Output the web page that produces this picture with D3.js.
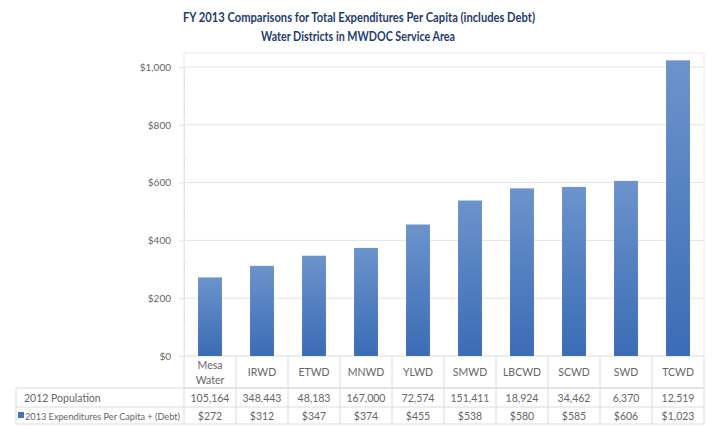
<!DOCTYPE html>
<html>
<head>
<meta charset="utf-8">
<script src="https://cdn.jsdelivr.net/npm/d3@7"></script>
<style>
  body { margin: 0; background: #fff; }
  text { font-family: Lato, "Open Sans", sans-serif; }
</style>
</head>
<body>
<div id="chart"></div>
<script>
// Data
const districts = ["Mesa Water", "IRWD", "ETWD", "MNWD", "YLWD", "SMWD", "LBCWD", "SCWD", "SWD", "TCWD"];
const population = [105164, 348443, 48183, 167000, 72574, 151411, 18924, 34462, 6370, 12519];
const expenditures = [272, 312, 347, 374, 455, 538, 580, 585, 606, 1023];
const yTicks = [0, 200, 400, 600, 800, 1000];

const svgWidth = 717;
const svgHeight = 426;

const margin = { top: 53, right: 13, bottom: 70, left: 184 };
const width = svgWidth - margin.left - margin.right;
const height = 356 - margin.top;

const svg = d3.select("#chart")
  .append("svg")
  .attr("width", svgWidth)
  .attr("height", svgHeight);

// gradient for bars
const grad = svg.append("defs").append("linearGradient")
  .attr("id", "barGrad")
  .attr("x1", 0).attr("y1", 0).attr("x2", 0).attr("y2", 1);
grad.append("stop").attr("offset", "0%").attr("stop-color", "#6c93cb");
grad.append("stop").attr("offset", "100%").attr("stop-color", "#3b6cb6");

// title
const title = svg.append("g")
  .attr("fill", "#1f3b6e")
  .attr("font-weight", "bold")
  .attr("font-size", "12.5px")
  .attr("text-anchor", "middle");
title.append("text").attr("x", 359).attr("y", 22)
  .attr("textLength", 352)
  .attr("lengthAdjust", "spacingAndGlyphs")
  .text("FY 2013 Comparisons  for Total Expenditures Per Capita  (includes Debt)");
title.append("text").attr("x", 358).attr("y", 41)
  .attr("textLength", 194)
  .attr("lengthAdjust", "spacingAndGlyphs")
  .text("Water Districts in  MWDOC Service Area");

const chartGroup = svg.append("g")
  .attr("transform", `translate(${margin.left}, ${margin.top})`);

const x = d3.scaleBand()
  .domain(districts)
  .range([0, width])
  .paddingInner(0.54)
  .paddingOuter(0.27);

const y = d3.scaleLinear()
  .domain([0, 1000])
  .range([height, height - 289]);

// plot frame
chartGroup.append("rect")
  .attr("x", 0).attr("y", 0)
  .attr("width", width).attr("height", height)
  .attr("fill", "none")
  .attr("stroke", "#ececec");

// gridlines
chartGroup.append("g")
  .selectAll("line")
  .data(yTicks)
  .enter()
  .append("line")
  .attr("x1", 0).attr("x2", width)
  .attr("y1", d => y(d)).attr("y2", d => y(d))
  .attr("stroke", "#e4e4e4");

// y axis with minor ticks
const leftAxis = d3.axisLeft(y)
  .tickValues(yTicks)
  .tickSize(5)
  .tickPadding(8)
  .tickFormat(d => "$" + d3.format(",")(d));

const yAxis = chartGroup.append("g").call(leftAxis);
yAxis.select(".domain").attr("stroke", "#e4e4e4");
yAxis.selectAll(".tick line").attr("stroke", "#e4e4e4");
yAxis.selectAll(".tick text")
  .attr("fill", "#666")
  .attr("font-size", "10px")
  .attr("font-family", "Lato, sans-serif");

chartGroup.append("g")
  .selectAll("line")
  .data(d3.range(0, 1001, 40).filter(d => d % 200 !== 0))
  .enter()
  .append("line")
  .attr("x1", 0).attr("x2", 3)
  .attr("y1", d => y(d)).attr("y2", d => y(d))
  .attr("stroke", "#ececec");

// bars
chartGroup.selectAll(".bar")
  .data(districts)
  .enter()
  .append("rect")
  .attr("class", "bar")
  .attr("x", d => x(d))
  .attr("width", x.bandwidth())
  .attr("y", (d, i) => y(expenditures[i]))
  .attr("height", (d, i) => y(0) - y(expenditures[i]))
  .attr("fill", "url(#barGrad)");

// data table
const colW = width / districts.length;
const rowTop = height;
const row1 = height + 32;
const row2 = height + 51;
const row3 = height + 68;
const tableLeft = 16 - margin.left;
const lineColor = "#dcdcdc";

const table = chartGroup.append("g");

// horizontal lines
[[0, row1], [tableLeft, row1], [tableLeft, row2], [tableLeft, row3]].forEach(([x0, yy]) => {
  table.append("line")
    .attr("x1", x0).attr("x2", width)
    .attr("y1", yy).attr("y2", yy)
    .attr("stroke", lineColor);
});

// vertical lines
d3.range(districts.length + 1).forEach(i => {
  table.append("line")
    .attr("x1", i * colW).attr("x2", i * colW)
    .attr("y1", rowTop).attr("y2", row3)
    .attr("stroke", lineColor);
});
table.append("line")
  .attr("x1", tableLeft).attr("x2", tableLeft)
  .attr("y1", row1).attr("y2", row3)
  .attr("stroke", lineColor);

const cellText = table.append("g")
  .attr("fill", "#666")
  .attr("font-size", "10.5px")
  .attr("text-anchor", "middle");

// category labels
districts.forEach((d, i) => {
  const cx = x(d) + x.bandwidth() / 2;
  const parts = d.split(" ");
  if (parts.length > 1) {
    cellText.append("text").attr("x", cx).attr("y", rowTop + 13).text(parts[0]);
    cellText.append("text").attr("x", cx).attr("y", rowTop + 28).text(parts[1]);
  } else {
    cellText.append("text").attr("x", cx).attr("y", rowTop + 20).text(d);
  }
  cellText.append("text").attr("x", cx).attr("y", row1 + 13.5).text(d3.format(",")(population[i]));
  cellText.append("text").attr("x", cx).attr("y", row2 + 12.5).text("$" + d3.format(",")(expenditures[i]));
});

// row labels
table.append("text")
  .attr("x", tableLeft + 8).attr("y", row1 + 13.5)
  .attr("fill", "#666").attr("font-size", "10.5px")
  .text("2012 Population");
table.append("rect")
  .attr("x", tableLeft + 2).attr("y", row2 + 5)
  .attr("width", 6).attr("height", 6)
  .attr("fill", "#4472c4");
table.append("text")
  .attr("x", tableLeft + 9).attr("y", row2 + 12.5)
  .attr("fill", "#666").attr("font-size", "9.2px")
  .attr("textLength", 155)
  .attr("lengthAdjust", "spacingAndGlyphs")
  .text("2013 Expenditures Per Capita + (Debt)");
</script>
</body>
</html>
